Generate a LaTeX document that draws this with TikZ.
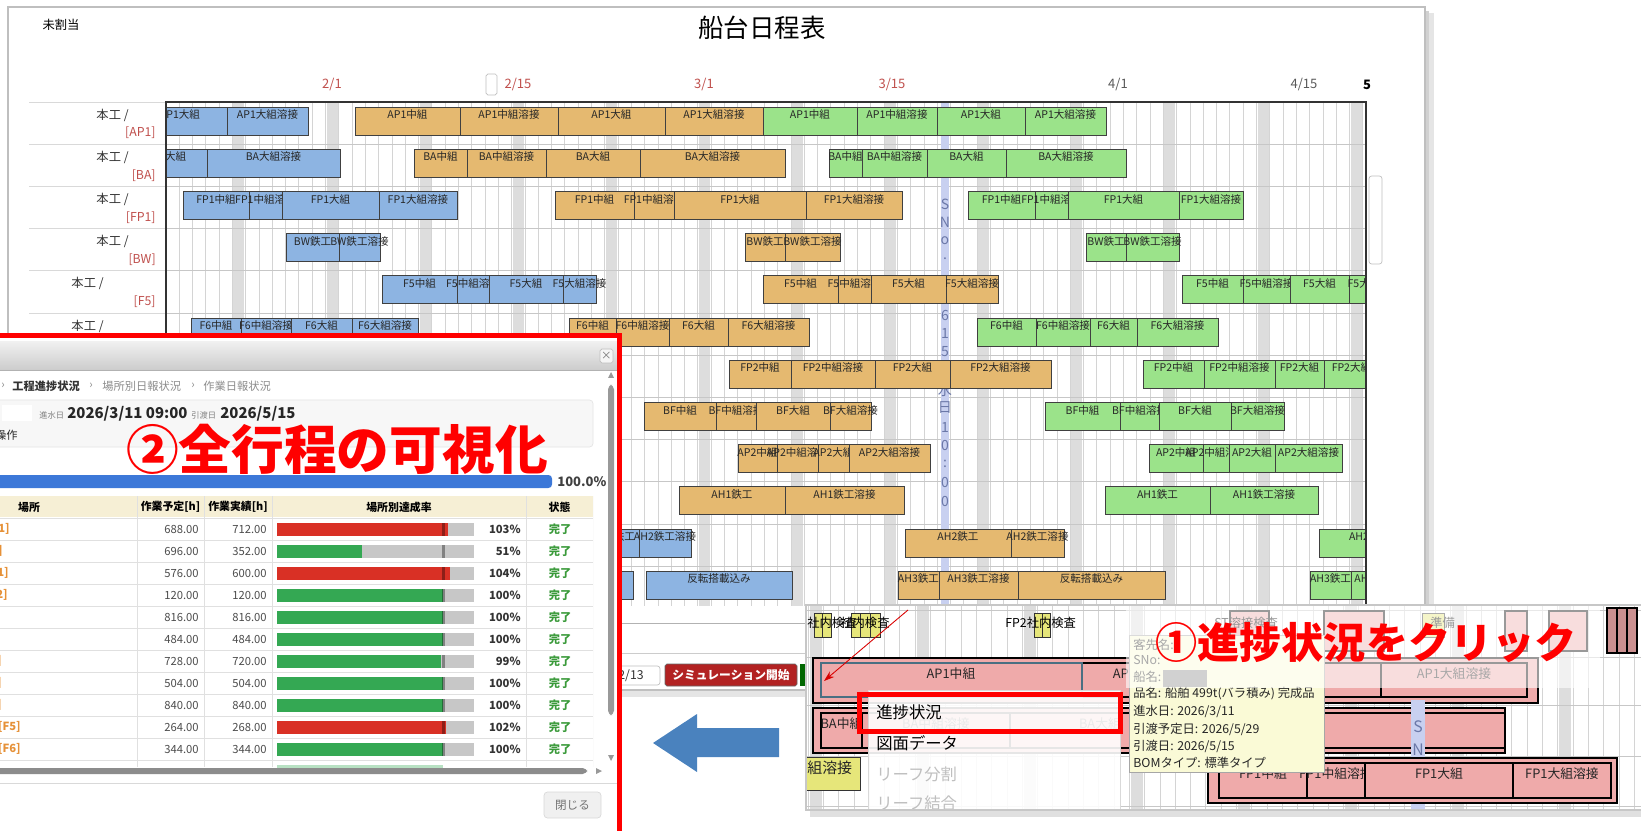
\documentclass[tikz,border=0pt]{standalone}
\usepackage{fontspec}
\setmainfont{Noto Sans CJK JP}
\usetikzlibrary{arrows.meta}

\definecolor{barblue}{HTML}{8DB4E2}
\definecolor{barorange}{HTML}{E5B970}
\definecolor{bargreen}{HTML}{9BE38A}
\definecolor{barpink}{HTML}{EFAAAA}
\definecolor{baryellow}{HTML}{E6E67A}
\definecolor{datered}{HTML}{C0504D}
\definecolor{gridgray}{HTML}{D4D4D4}
\definecolor{weekgray}{HTML}{DDDDDD}
\definecolor{snoblue}{HTML}{C8D0F0}
\definecolor{snotext}{HTML}{6B78A8}
\definecolor{okgreen}{HTML}{34A853}
\definecolor{ngred}{HTML}{D93025}
\definecolor{donegreen}{HTML}{3A9A3A}
\definecolor{linkorange}{HTML}{E69138}
\definecolor{progblue}{HTML}{3C78D8}
\definecolor{arrowblue}{HTML}{4A82BE}
\definecolor{tipyellow}{HTML}{FAFAD6}
\definecolor{headyellow}{HTML}{F6EFD5}
\definecolor{simred}{HTML}{B22222}

\begin{document}
\begin{tikzpicture}
   [x=0.02cm,y=-0.02cm,inner sep=0pt,
    font=\fontsize{6.4}{7.5}\selectfont,
    ganttbar/.style={draw=black!75,line width=0.45pt},
    ganttlabel/.style={anchor=north,font=\fontsize{6}{7}\selectfont,text=black!85},
    gridline/.style={draw=gridgray,line width=0.4pt},
    rowlabel/.style={anchor=east,font=\fontsize{7}{8}\selectfont,text=black!80},
    datelabel/.style={font=\fontsize{7.4}{8}\selectfont,text=datered},
    snochar/.style={font=\fontsize{8}{9}\selectfont,text=snotext},
    pinkbar/.style={draw=black,line width=0.7pt,fill=barpink},
    pinklabel/.style={anchor=north,font=\fontsize{7.3}{8.5}\selectfont,text=black!85},
    tableno/.style={anchor=east,text=black!70},
    menuitem/.style={anchor=west,font=\fontsize{9.3}{11}\selectfont},
    tipline/.style={anchor=west,font=\fontsize{7}{8}\selectfont,text=black!85},
    callout/.style={text=red}]
   \useasboundingbox (0,0) rectangle (1641,831);
   \clip (0,0) rectangle (1641,831);

   % schedule screen
   \fill[black!10] (1425,13) rectangle (1434,697);
   \fill[black!18] (1425,11) rectangle (1429,694);
   \fill[black!10] (13,690) rectangle (1434,697);
   \filldraw[fill=white,draw=black!25,line width=0.8pt] (8,7) rectangle (1425,690);
   \node[font=\fontsize{7}{8}\selectfont] (unassigned) at (61,25) {未割当};
   \node[font=\fontsize{14.5}{16}\selectfont] (title) at (762,28) {船台日程表};
   \draw[black!25,rounded corners=1] (486,74) rectangle (497,95);
   \node[datelabel] (d0201) at (332,85) {2/1};
   \node[datelabel] (d0215) at (518,85) {2/15};
   \node[datelabel] (d0301) at (704,85) {3/1};
   \node[datelabel] (d0315) at (892,85) {3/15};
   \node[datelabel,text=black!65] (d0401) at (1118,85) {4/1};
   \node[datelabel,text=black!65] (d0415) at (1304,85) {4/15};
   \node[datelabel,text=black,font=\fontsize{7.4}{8}\selectfont\bfseries] (d0501) at (1367,85) {5};

   \foreach \r in {0,...,5}
      \draw[black!15] (29,{102+42.2*\r}) -- (166,{102+42.2*\r});
   \foreach \r/\g/\s in {0/129/AP1,1/129/BA,2/129/FP1,3/129/BW,4/104/F5}
   {
      \node[rowlabel] (work-\r) at (\g,{115+42.2*\r}) {本工 /};
      \node[rowlabel,text=datered] (place-\r) at (156,{133+42.2*\r}) {[\s]};
   }
   \node[rowlabel] (work-5) at (104,326) {本工 /};

   \begin{scope}
      \clip (166,102) rectangle (1366,606);
      \foreach \k in {-1,...,11}
         \fill[weekgray] ({326.5+93.1*\k},102) rectangle ({337.5+93.1*\k},606);
      \foreach \k in {-11,...,78}
         \draw[gridline] ({325.35+13.3*\k},102) -- ({325.35+13.3*\k},606);
      \foreach \r in {1,...,11}
         \draw[black!22] (166,{102+42.2*\r}) -- (1366,{102+42.2*\r});
      \fill[snoblue] (941,102) rectangle (949,606);
      \foreach \y/\c in {204/S,222/N,241/o,259/.,315/6,333/1,352/5,371/進,390/水,408/日,427/1,445/0,464/:,482/0,501/0}
         \node[snochar] (sno-\y) at (945,\y) {\c};

      \foreach \r/\a/\b/\t in {0/133/227/AP1大組,0/227/308/AP1大組溶接,
            1/131/207/BA大組,1/207/340/BA大組溶接,
            2/183/249/FP1中組,2/249/282/FP1中組溶接,2/282/379/FP1大組,2/379/457/FP1大組溶接,
            3/286/339/BW鉄工,3/339/380/BW鉄工溶接,
            4/382/457/F5中組,4/457/489/F5中組溶接,4/489/563/F5大組,4/563/596/F5大組溶接,
            5/191/241/F6中組,5/241/291/F6中組溶接,5/291/352/F6大組,5/352/418/F6大組溶接,
            10/590/639/AH2鉄工,10/639/691/AH2鉄工溶接,
            11/540/633/AH3鉄工溶接,11/646/792/反転搭載込み}
      {
         \filldraw[ganttbar,fill=barblue] (\a,{107+42.2*\r}) rectangle (\b,{135+42.2*\r});
         \node[ganttlabel] (blue-\r-\a) at ({(\a+\b)/2},{109.5+42.2*\r}) {\t};
      }
      \foreach \r/\a/\b/\t in {0/355/460/AP1中組,0/460/558/AP1中組溶接,0/558/665/AP1大組,0/665/763/AP1大組溶接,
            1/414/467/BA中組,1/467/546/BA中組溶接,1/546/640/BA大組,1/640/785/BA大組溶接,
            2/555/634/FP1中組,2/634/674/FP1中組溶接,2/674/806/FP1大組,2/806/902/FP1大組溶接,
            3/745/785/BW鉄工,3/785/840/BW鉄工溶接,
            4/763/838/F5中組,4/838/871/F5中組溶接,4/871/946/F5大組,4/946/998/F5大組溶接,
            5/569/616/F6中組,5/616/669/F6中組溶接,5/669/728/F6大組,5/728/809/F6大組溶接,
            6/729/791/FP2中組,6/791/875/FP2中組溶接,6/875/950/FP2大組,6/950/1051/FP2大組溶接,
            7/644/716/BF中組,7/716/756/BF中組溶接,7/756/830/BF大組,7/830/871/BF大組溶接,
            8/738/777/AP2中組,8/777/818/AP2中組溶接,8/818/849/AP2大組,8/849/930/AP2大組溶接,
            9/679/785/AH1鉄工,9/785/904/AH1鉄工溶接,
            10/905/1011/AH2鉄工,10/1011/1064/AH2鉄工溶接,
            11/898/939/AH3鉄工,11/939/1018/AH3鉄工溶接,11/1018/1165/反転搭載込み}
      {
         \filldraw[ganttbar,fill=barorange] (\a,{107+42.2*\r}) rectangle (\b,{135+42.2*\r});
         \node[ganttlabel] (orange-\r-\a) at ({(\a+\b)/2},{109.5+42.2*\r}) {\t};
      }
      \foreach \r/\a/\b/\t in {0/763/857/AP1中組,0/857/937/AP1中組溶接,0/937/1025/AP1大組,0/1025/1106/AP1大組溶接,
            1/829/862/BA中組,1/862/927/BA中組溶接,1/927/1006/BA大組,1/1006/1126/BA大組溶接,
            2/968/1035/FP1中組,2/1035/1068/FP1中組溶接,2/1068/1179/FP1大組,2/1179/1243/FP1大組溶接,
            3/1086/1126/BW鉄工,3/1126/1179/BW鉄工溶接,
            4/1182/1243/F5中組,4/1243/1290/F5中組溶接,4/1290/1349/F5大組,4/1349/1400/F5大組溶接,
            5/977/1036/F6中組,5/1036/1090/F6中組溶接,5/1090/1137/F6大組,5/1137/1218/F6大組溶接,
            6/1143/1204/FP2中組,6/1204/1275/FP2中組溶接,6/1275/1324/FP2大組,6/1324/1400/FP2大組溶接,
            7/1045/1120/BF中組,7/1120/1159/BF中組溶接,7/1159/1231/BF大組,7/1231/1284/BF大組溶接,
            8/1149/1203/AP2中組,8/1203/1229/AP2中組溶接,8/1229/1275/AP2大組,8/1275/1342/AP2大組溶接,
            9/1105/1210/AH1鉄工,9/1210/1318/AH1鉄工溶接,
            10/1319/1420/AH2鉄工,
            11/1310/1351/AH3鉄工,11/1351/1420/AH3鉄工溶接}
      {
         \filldraw[ganttbar,fill=bargreen] (\a,{107+42.2*\r}) rectangle (\b,{135+42.2*\r});
         \node[ganttlabel] (green-\r-\a) at ({(\a+\b)/2},{109.5+42.2*\r}) {\t};
      }
   \end{scope}
   \draw[black!80,line width=0.8pt] (166,606) -- (166,102) -- (1366,102) -- (1366,606);
   \draw[black!25,rounded corners=1.5] (1369,176) rectangle (1382,264);

   \draw[black!30] (166,623) -- (1425,623);
   \draw[black!20] (166,653) -- (1425,653);
   \filldraw[fill=white,draw=black!25,rounded corners=1.5] (600,666) rectangle (660,685);
   \node[anchor=east,font=\fontsize{7}{8}\selectfont,text=black!80] (simdate) at (644,675.5) {2/13};
   \filldraw[fill=simred,draw=black!60,rounded corners=1] (665,664) rectangle (797,686);
   \node[text=white,font=\fontsize{6.7}{8}\selectfont\bfseries] (simstart) at (731,675) {シミュレーション開始};
   \fill[green!40!black] (800,664) rectangle (806,686);

   \fill[arrowblue] (653,743) -- (697,714) -- (697,728) -- (779,728) -- (779,757) -- (697,757) -- (697,772) -- cycle;

   % context menu capture
   \fill[black!12] (810,810) rectangle (1641,817);
   \begin{scope}
      \clip (806,605) rectangle (1641,810);
      \fill[white] (806,605) rectangle (1641,810);
      \foreach \k in {-1,...,7}
         \fill[weekgray] ({917+107*\k},605) rectangle ({929+107*\k},810);
      \foreach \k in {0,...,55}
         \draw[gridline] ({808+15.3*\k},605) -- ({808+15.3*\k},810);
      \foreach \y in {610,657,705,756,806}
         \draw[black!22] (806,\y) -- (1641,\y);
      \foreach \a/\b in {814/822,822/831,851/860,860/870,870/880,1034/1042,1042/1050,1422/1444}
         \filldraw[fill=baryellow,draw=black!80,line width=0.5pt] (\a,613) rectangle (\b,637);
      \node[anchor=west,font=\fontsize{7}{8}\selectfont] (insp-a) at (807,623) {社内検査};
      \node[anchor=west,font=\fontsize{7}{8}\selectfont] (insp-b) at (840,623) {社内検査};
      \node[anchor=west,font=\fontsize{7}{8}\selectfont] (insp-c) at (1005,623) {FP2社内検査};
      \foreach \a/\b in {1230/1269,1324/1384,1505/1527,1549/1587}
         \filldraw[pinkbar] (\a,611) rectangle (\b,651);
      \node[anchor=west,font=\fontsize{7}{8}\selectfont] (insp-d) at (1214,623) {ST溶接検査};
      \node[anchor=west,font=\fontsize{7}{8}\selectfont] (prep) at (1430,623) {準備};

      \filldraw[pinkbar] (813,658) rectangle (1538,703);
      \foreach \a/\b/\t in {1082/1218/AP1中組溶接,1218/1381/AP1大組,1381/1527/AP1大組溶接}
      {
         \filldraw[pinkbar] (\a,663) rectangle (\b,697);
         \node[pinklabel] (ap1-\a) at ({(\a+\b)/2},667) {\t};
      }
      \filldraw[pinkbar,draw=cyan!45!black,line width=1pt] (821,663) rectangle (1082,697);
      \node[pinklabel] (ap1-mid) at (951,667) {AP1中組};

      \filldraw[pinkbar] (813,708) rectangle (1505,753);
      \foreach \a/\b/\t in {821/862/BA中組,862/1010/BA中組溶接,1010/1190/BA大組}
      {
         \filldraw[pinkbar] (\a,713) rectangle (\b,748);
         \node[pinklabel] (ba-\a) at ({(\a+\b)/2},717) {\t};
      }
      \filldraw[pinkbar] (1190,713) rectangle (1324,748);
      \filldraw[pinkbar] (1324,713) rectangle (1505,748);
      \fill[snoblue] (1411,700) rectangle (1425,810);
      \node[font=\fontsize{9}{10}\selectfont,text=snotext] (sn-s) at (1418,727) {S};
      \node[font=\fontsize{9}{10}\selectfont,text=snotext] (sn-n) at (1418,750) {N};

      \filldraw[pinkbar] (1208,758) rectangle (1617,803);
      \foreach \a/\b/\t in {1219/1307/FP1中組,1307/1365/FP1中組溶接,1365/1513/FP1大組,1513/1611/FP1大組溶接}
      {
         \filldraw[pinkbar] (\a,763) rectangle (\b,798);
         \node[pinklabel] (fp1-\a) at ({(\a+\b)/2},767) {\t};
      }
      \filldraw[fill=baryellow,draw=black!80,line width=0.5pt] (790,757) rectangle (860,790);
      \node[anchor=north west,font=\fontsize{8.5}{9}\selectfont,text=black!85] (weld-left) at (807,761) {組溶接};

      \filldraw[fill=tipyellow,draw=black!35] (1129,635) rectangle (1324,772);
      \node[tipline] (tip-client) at (1133,645) {客先名:};
      \node[tipline] (tip-sno) at (1133,660) {SNo:};
      \node[tipline] (tip-ship) at (1133,677) {船名:};
      \fill[black!45] (1163,670) rectangle (1207,687);
      \node[tipline] (tip-item) at (1133,694) {品名: 船舶 499t(バラ積み) 完成品};
      \node[tipline] (tip-launch) at (1133,711) {進水日: 2026/3/11};
      \node[tipline] (tip-plan) at (1133,729) {引渡予定日: 2026/5/29};
      \node[tipline] (tip-deliver) at (1133,746) {引渡日: 2026/5/15};
      \node[tipline] (tip-bom) at (1133,763) {BOMタイプ: 標準タイプ};
      \fill[white,opacity=.6] (1126,606) rectangle (1600,688);
      \foreach \a in {1607,1617,1627}
         \filldraw[fill=barpink!85!black,draw=black,line width=0.8pt] (\a,608) rectangle ({\a+10},653);

      \filldraw[fill=white,fill opacity=.9,draw=black!15] (868,690) rectangle (1120,830);
      \node[menuitem] (menu-progress) at (876,712) {進捗状況};
      \node[menuitem] (menu-drawing) at (876,743) {図面データ};
      \node[menuitem,text=black!25] (menu-split) at (876,774) {リーフ分割};
      \node[menuitem,text=black!25] (menu-join) at (876,803) {リーフ結合};
      \draw[red,line width=2.8pt] (859.5,694.5) rectangle (1120.5,731.5);
      \coordinate (pointfrom) at (908,610);
      \coordinate (pointto) at (824,681);
      \draw[red!85!black,line width=0.5pt,-{Stealth[length=6pt,width=4pt]}] (pointfrom) -- (pointto);
   \end{scope}
   \draw[black!22,line width=0.8pt] (806,605) rectangle (1660,810);
   \node[callout,font=\fontsize{24}{26}\selectfont\bfseries] (callout1) at (1366,643) {①進捗状況をクリック};

   % progress dialog
   \fill[white] (-10,333) rectangle (622,840);
   \shade[top color=black!6,bottom color=black!20] (-10,342) rectangle (617,370);
   \draw[black!30] (-10,370) -- (617,370);
   \draw[black!25] (617,342) -- (617,840);
   \filldraw[fill=black!4,draw=black!25,rounded corners=1] (600,349) rectangle (613,363);
   \node[text=black!55,font=\fontsize{6}{6}\selectfont] (closex) at (606.5,356) {×};
   \node[text=black!45] (crumb0) at (3,386) {›};
   \node[anchor=west,font=\fontsize{6.4}{7.5}\selectfont\bfseries,text=black!80] (crumb1) at (12,386) {工程進捗状況};
   \node[text=black!45] (crumb2) at (91,386) {›};
   \node[anchor=west,text=black!45] (crumb3) at (102,386) {場所別日報状況};
   \node[text=black!45] (crumb4) at (193,386) {›};
   \node[anchor=west,text=black!45] (crumb5) at (203,386) {作業日報状況};
   \filldraw[fill=black!3,draw=black!10,rounded corners=2] (-10,400) rectangle (593,447);
   \fill[white] (2,405) rectangle (32,421);
   \node[anchor=west,text=black!50,font=\fontsize{4.7}{5}\selectfont] (launchkey) at (39,415) {進水日};
   \node[anchor=west,text=black!85,font=\fontsize{8.5}{9}\selectfont\bfseries] (launchdate) at (67,414) {2026/3/11 09:00};
   \node[anchor=west,text=black!50,font=\fontsize{4.7}{5}\selectfont] (deliverkey) at (191,415) {引渡日};
   \node[anchor=west,text=black!85,font=\fontsize{8.5}{9}\selectfont\bfseries] (deliverdate) at (220,414) {2026/5/15};
   \node[anchor=east,text=black!85] (operate) at (18,435) {操作};
   \fill[progblue,rounded corners=2] (-10,475) rectangle (552,488);
   \node[anchor=west,font=\fontsize{7.4}{8}\selectfont\bfseries,text=black!75] (total) at (557,482) {100.0\%};

   \begin{scope}
      \clip (-10,496) rectangle (593,767);
      \fill[headyellow] (-10,496) rectangle (593,517);
      \foreach \k in {0,...,11}
         \draw[black!12] (-10,{518+22*\k}) -- (593,{518+22*\k});
      \foreach \x in {137,204,272,526,593}
         \draw[black!12] (\x,496) -- (\x,767);
      \node[font=\fontsize{6.2}{7}\selectfont\bfseries] (hplace) at (29,507) {場所};
      \node[font=\fontsize{6.2}{7}\selectfont\bfseries] (hplan) at (170.5,507) {作業予定[h]};
      \node[font=\fontsize{6.2}{7}\selectfont\bfseries] (hactual) at (238,507) {作業実績[h]};
      \node[font=\fontsize{6.2}{7}\selectfont\bfseries] (hrate) at (399,507) {場所別達成率};
      \node[font=\fontsize{6.2}{7}\selectfont\bfseries] (hstate) at (559.5,507) {状態};
      \foreach \k/\pl/\ac/\p/\fc in {0/688.00/712.00/103/ngred,1/696.00/352.00/51/okgreen,
            2/576.00/600.00/104/ngred,3/120.00/120.00/100/okgreen,4/816.00/816.00/100/okgreen,
            5/484.00/484.00/100/okgreen,6/728.00/720.00/99/okgreen,7/504.00/504.00/100/okgreen,
            8/840.00/840.00/100/okgreen,9/264.00/268.00/102/ngred,10/344.00/344.00/100/okgreen}
      {
         \node[tableno] (plan-\k) at (199,{529+22*\k}) {\pl};
         \node[tableno] (actual-\k) at (267,{529+22*\k}) {\ac};
         \fill[black!22] (277,{522.5+22*\k}) rectangle (474,{535.5+22*\k});
         \fill[\fc] (277,{522.5+22*\k}) rectangle ({277+1.66*\p},{535.5+22*\k});
         \fill[black,opacity=.35] (442,{522.5+22*\k}) rectangle (444.5,{535.5+22*\k});
         \node[anchor=east,font=\fontsize{6.4}{7.5}\selectfont\bfseries,text=black!80] (rate-\k) at (521,{529+22*\k}) {\p\%};
         \node[font=\fontsize{6.4}{7.5}\selectfont\bfseries,text=donegreen] (state-\k) at (560,{529+22*\k}) {完了};
      }
      \foreach \k/\x/\nm in {0/10/1],1/3/],2/9/1],3/8/2],6/2/],7/2/],8/2/],9/21/[F5],10/21/[F6]}
         \node[anchor=east,text=linkorange,font=\fontsize{6.4}{7.5}\selectfont\bfseries] (name-\k) at (\x,{529+22*\k}) {\nm};
      \fill[okgreen!35] (277,764.5) rectangle (443,777);
   \end{scope}
   \fill[black!40,rounded corners=2.5] (608,385) rectangle (614,715);
   \fill[black!40] (608,378) -- (614,378) -- (611,372) -- cycle;
   \fill[black!40] (608,755) -- (614,755) -- (611,761) -- cycle;
   \fill[black!45,rounded corners=2.5] (-10,768) rectangle (587,774);
   \fill[black!40] (596,768) -- (596,774) -- (602,771) -- cycle;
   \draw[black!15] (-10,783) -- (617,783);
   \filldraw[fill=black!6,draw=black!15,rounded corners=2] (544,792) rectangle (601,818);
   \node[text=black!55,font=\fontsize{6.6}{8}\selectfont] (closebtn) at (572.5,805) {閉じる};
   \draw[red,line width=2.6pt] (-10,335.5) rectangle (619.5,845);
   \node[callout,font=\fontsize{30}{32}\selectfont\bfseries] (callout2) at (337,449) {②全行程の可視化};
\end{tikzpicture}
\end{document}
